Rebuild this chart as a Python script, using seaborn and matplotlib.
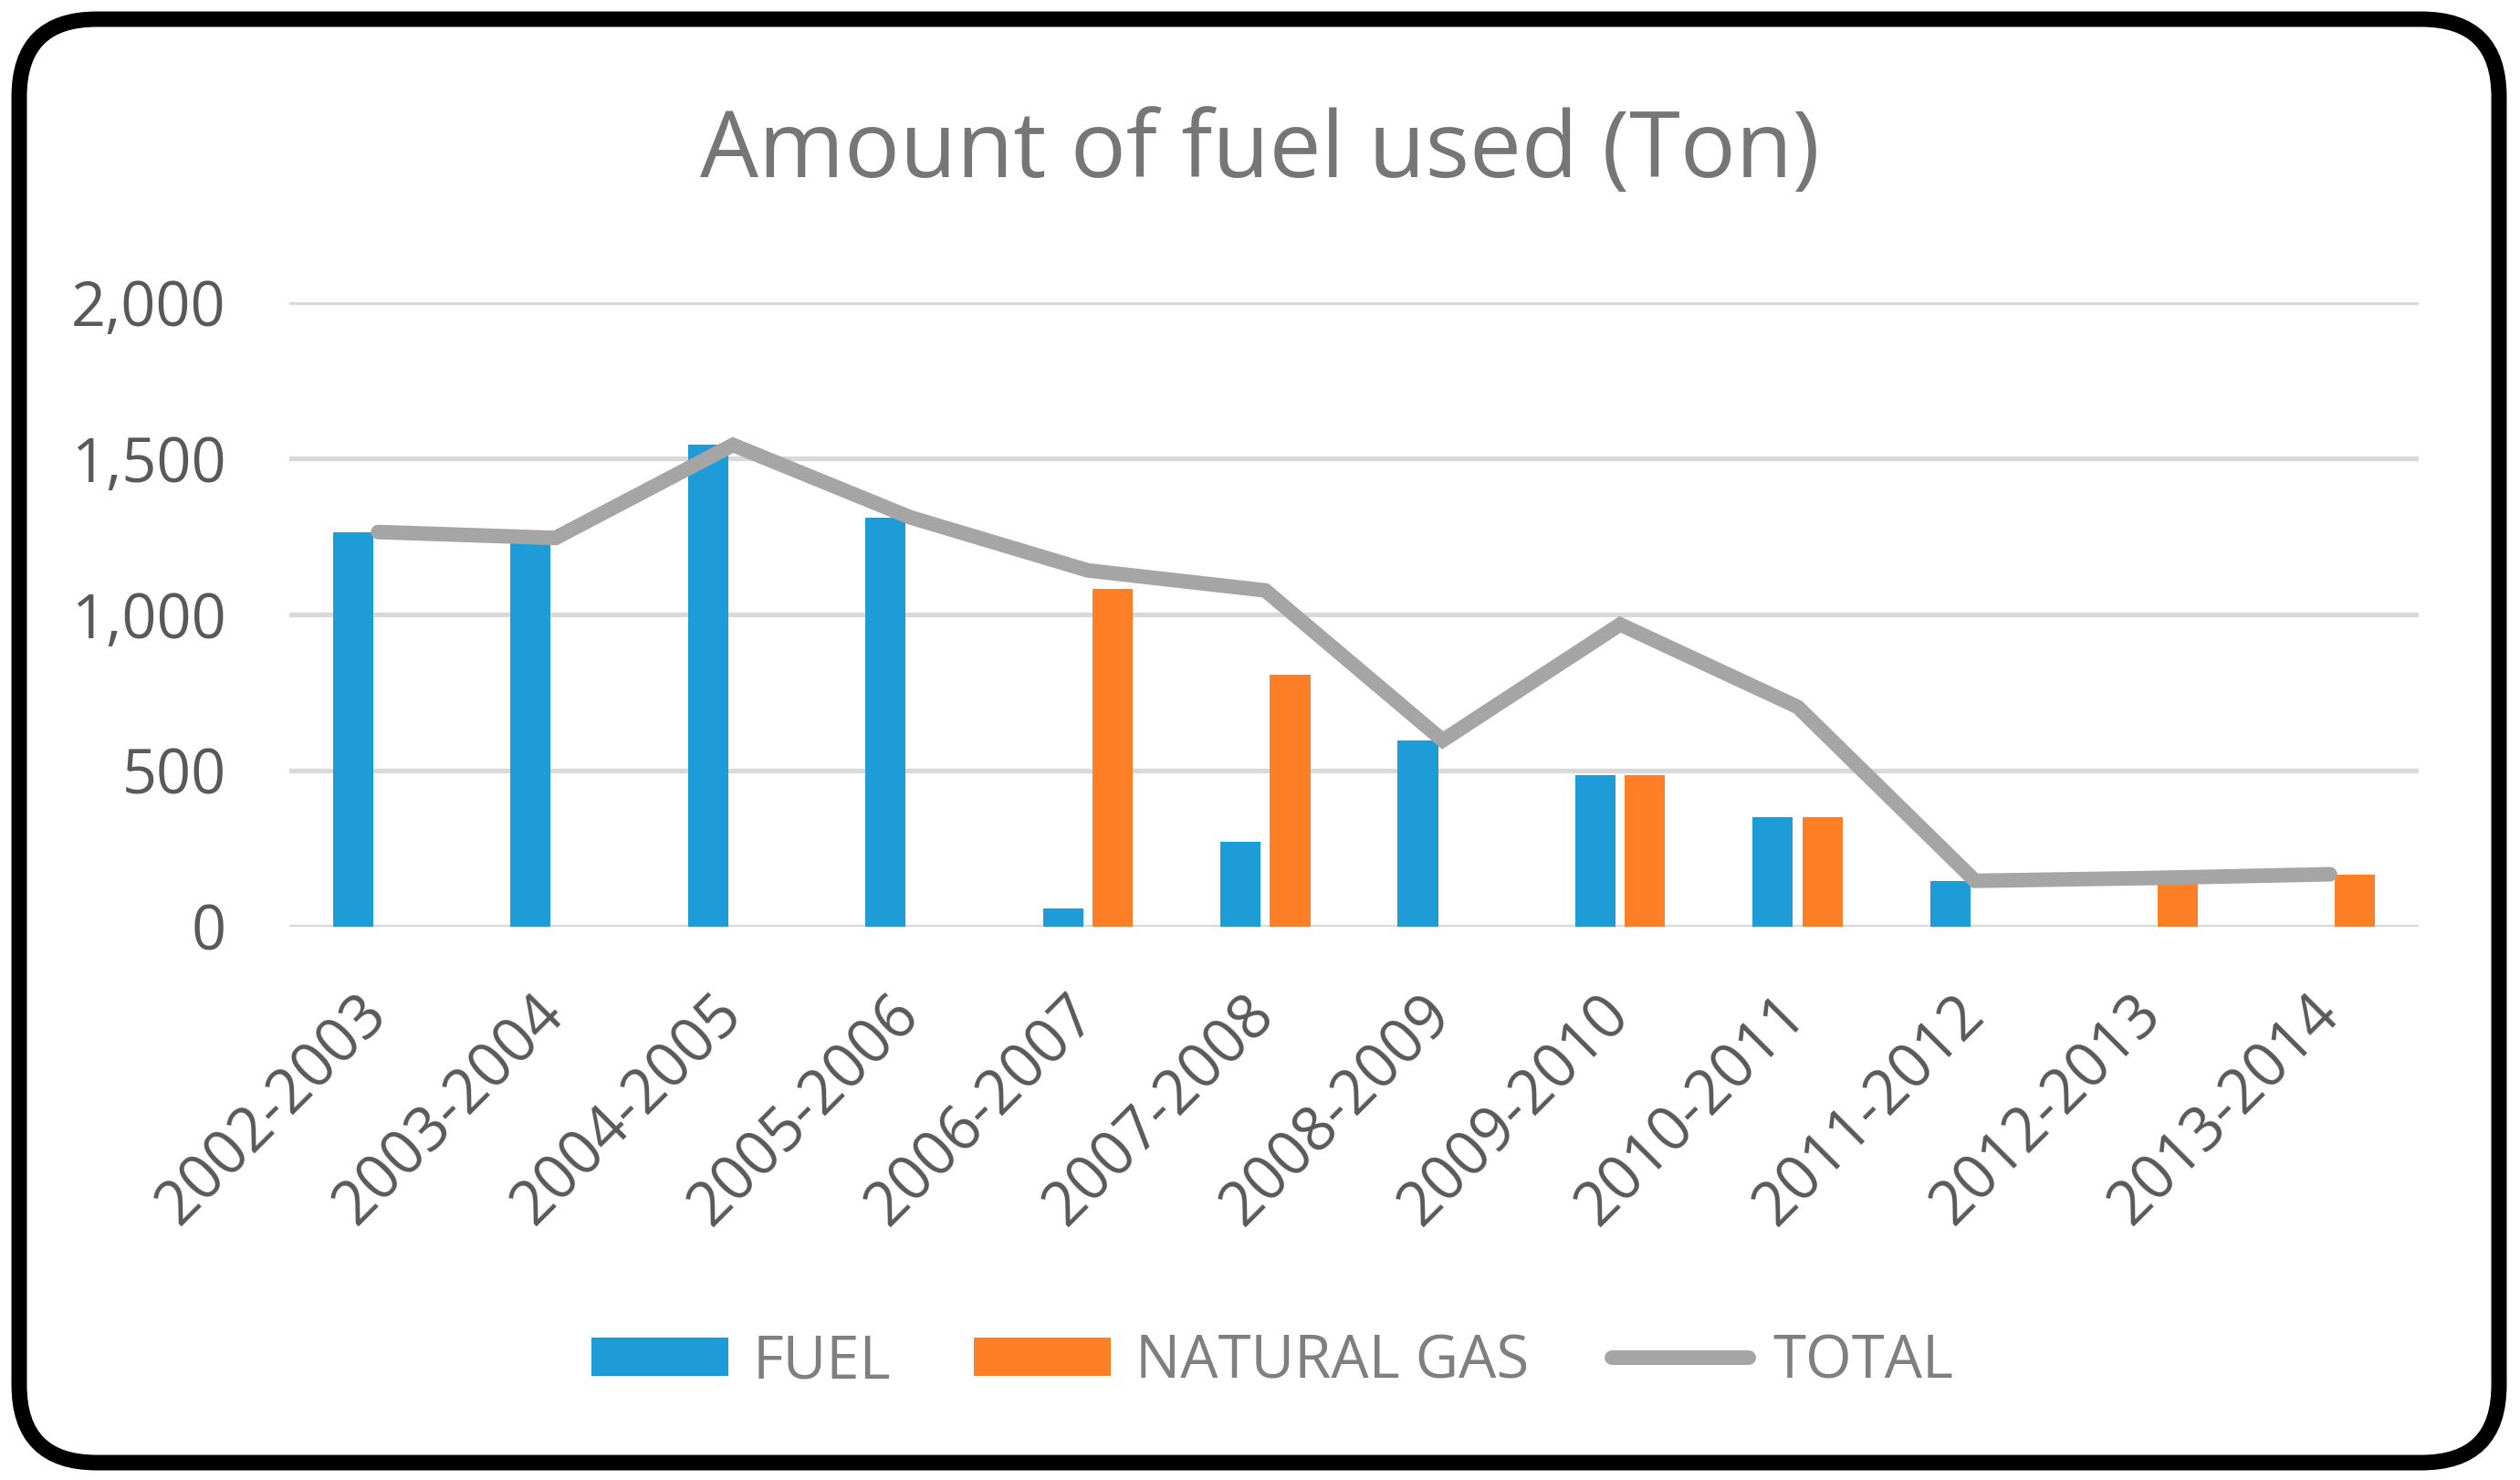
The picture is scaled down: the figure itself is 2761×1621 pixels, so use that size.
import numpy as np
import pandas as pd
import matplotlib
matplotlib.use("Agg")
import matplotlib.pyplot as plt
import seaborn as sns
from matplotlib.patches import FancyBboxPatch, Patch
from matplotlib.lines import Line2D
from matplotlib.transforms import IdentityTransform

periods = ["2002-2003", "2003-2004", "2004-2005", "2005-2006", "2006-2007", "2007-2008",
           "2008-2009", "2009-2010", "2010-2011", "2011-2012", "2012-2013", "2013-2014"]
fuel = [1264, 1245, 1543, 1311, 59, 271, 597, 484, 352, 147, 0, 0]
natural_gas = [0, 0, 0, 0, 1082, 806, 0, 484, 352, 0, 156, 168]
total = [f + g for f, g in zip(fuel, natural_gas)]
series_names = ["FUEL", "NATURAL GAS", "TOTAL"]
y_ticks = [0, 500, 1000, 1500, 2000]

C_FUEL = "#1E9CD8"
C_GAS = "#FF7F27"
C_TOTAL = "#A5A5A5"
C_GRID = "#D9D9D9"
C_TEXT = "#595959"
C_LEG = "#7F7F7F"
C_TITLE = "#767676"

sns.set_theme(style="white")
plt.rcParams["font.family"] = ["Open Sans", "DejaVu Sans"]

W, H, DPI = 2761, 1621, 100
fig = plt.figure(figsize=(W / DPI, H / DPI), dpi=DPI)
fig.patch.set_facecolor("white")

ax = fig.add_axes([317 / W, 1 - 1015 / H, (2650 - 317) / W, (1015 - 331) / H])

bars = pd.DataFrame({
    "period": periods * 2,
    "series": [series_names[0]] * len(periods) + [series_names[1]] * len(periods),
    "value": fuel + natural_gas,
})
sns.barplot(data=bars, x="period", y="value", hue="series", order=periods,
            hue_order=series_names[:2], palette=[C_FUEL, C_GAS], saturation=1,
            width=0.56, gap=0.19, linewidth=0, errorbar=None, legend=False,
            ax=ax, zorder=3)

tot = pd.DataFrame({"period": periods, "total": total})
sns.pointplot(data=tot, x="period", y="total", order=periods, color=C_TOTAL,
              markers="", linestyles="-", errorbar=None, ax=ax,
              linewidth=11.5, solid_capstyle="round", solid_joinstyle="miter", zorder=4)
for ln in ax.lines:
    ln.set_linewidth(11.5)
    ln.set_color(C_TOTAL)
    ln.set_solid_capstyle("round")
    ln.set_clip_on(False)
    ln.set_zorder(4)

ax.set_ylim(0, 2000)
ax.set_xlim(-0.5, len(periods) - 0.5)
ax.set_yticks(y_ticks)
ax.set_yticklabels([f"{v:,}" for v in y_ticks])
ax.yaxis.grid(True, color=C_GRID, linewidth=3.8, zorder=0)
ax.set_axisbelow(True)
for s in ax.spines.values():
    s.set_visible(False)
ax.set_xlabel("")
ax.set_ylabel("")
ax.tick_params(axis="y", length=0, pad=50, labelsize=48, labelcolor=C_TEXT)
ax.tick_params(axis="x", length=0, pad=62, labelsize=48, labelcolor=C_TEXT)
for lab in ax.get_xticklabels():
    lab.set_rotation(45)
    lab.set_ha("right")
    lab.set_va("center")
    lab.set_rotation_mode("anchor")

fig.text(0.5, 1 - 168 / H, "Amount of fuel used (Ton)", ha="center", va="center",
         fontsize=73, color=C_TITLE)

handles = [Patch(facecolor=C_FUEL, edgecolor="none"),
           Patch(facecolor=C_GAS, edgecolor="none"),
           Line2D([0], [0], color=C_TOTAL, linewidth=11.5, solid_capstyle="round")]
leg = fig.legend(handles, series_names, loc="center", bbox_to_anchor=(0.505, 1 - 1492 / H),
                 ncol=3, frameon=False, fontsize=47, handlelength=2.3, handleheight=0.62,
                 handletextpad=0.4, columnspacing=1.4)
for t in leg.get_texts():
    t.set_color(C_LEG)

border = FancyBboxPatch((21, 19), 2738 - 21, 1600 - 19,
                        boxstyle="round,pad=0,rounding_size=85",
                        transform=IdentityTransform(), facecolor="none",
                        edgecolor="black", linewidth=12.2)
fig.add_artist(border)

fig.savefig("out.png", dpi=DPI, facecolor="white")
